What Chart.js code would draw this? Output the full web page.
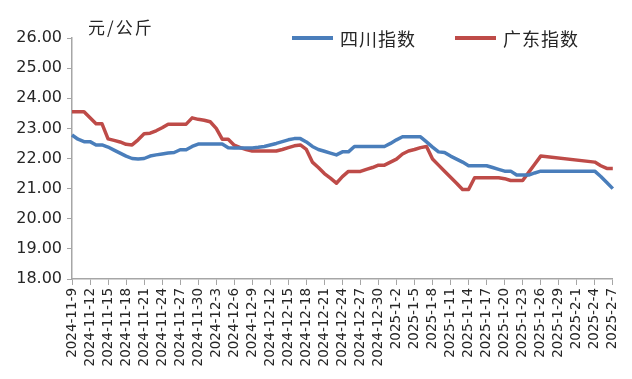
<!DOCTYPE html>
<html>
<head>
<meta charset="utf-8">
<script src="https://cdn.jsdelivr.net/npm/chart.js@4"></script>
<style>
html,body{margin:0;padding:0;background:#fff;}
#wrap{width:632px;height:379px;position:relative;}
</style>
</head>
<body>
<div id="wrap"><canvas id="c" width="632" height="379"></canvas></div>
<script>
const dates = [
"2024-11-9","2024-11-10","2024-11-11","2024-11-12","2024-11-13","2024-11-14","2024-11-15","2024-11-16","2024-11-17","2024-11-18",
"2024-11-19","2024-11-20","2024-11-21","2024-11-22","2024-11-23","2024-11-24","2024-11-25","2024-11-26","2024-11-27","2024-11-28",
"2024-11-29","2024-11-30","2024-12-1","2024-12-2","2024-12-3","2024-12-4","2024-12-5","2024-12-6","2024-12-7","2024-12-8",
"2024-12-9","2024-12-10","2024-12-11","2024-12-12","2024-12-13","2024-12-14","2024-12-15","2024-12-16","2024-12-17","2024-12-18",
"2024-12-19","2024-12-20","2024-12-21","2024-12-22","2024-12-23","2024-12-24","2024-12-25","2024-12-26","2024-12-27","2024-12-28",
"2024-12-29","2024-12-30","2024-12-31","2025-1-1","2025-1-2","2025-1-3","2025-1-4","2025-1-5","2025-1-6","2025-1-7",
"2025-1-8","2025-1-9","2025-1-10","2025-1-11","2025-1-12","2025-1-13","2025-1-14","2025-1-15","2025-1-16","2025-1-17",
"2025-1-18","2025-1-19","2025-1-20","2025-1-21","2025-1-22","2025-1-23","2025-1-24","2025-1-25","2025-1-26","2025-1-27",
"2025-1-28","2025-1-29","2025-1-30","2025-1-31","2025-2-1","2025-2-2","2025-2-3","2025-2-4","2025-2-5","2025-2-6",
"2025-2-7"
];

const sichuan = [
22.78,22.64,22.56,22.56,22.45,22.45,22.38,22.28,22.18,22.08,
22.00,21.98,22.00,22.08,22.12,22.15,22.18,22.20,22.29,22.29,
22.40,22.48,22.48,22.48,22.48,22.48,22.36,22.35,22.35,22.35,
22.35,22.37,22.40,22.45,22.50,22.56,22.62,22.66,22.66,22.55,
22.40,22.30,22.24,22.18,22.12,22.22,22.22,22.40,22.40,22.40,
22.40,22.40,22.40,22.50,22.62,22.72,22.72,22.72,22.72,22.55,
22.38,22.22,22.20,22.08,21.98,21.88,21.76,21.76,21.76,21.76,
21.70,21.64,21.58,21.58,21.45,21.45,21.45,21.52,21.58,21.58,
21.58,21.58,21.58,21.58,21.58,21.58,21.58,21.58,21.40,21.20,
21.00
];

const guangdong = [
23.55,23.55,23.55,23.35,23.15,23.15,22.65,22.60,22.55,22.47,
22.45,22.62,22.82,22.84,22.92,23.02,23.14,23.14,23.14,23.14,
23.35,23.30,23.27,23.22,23.00,22.64,22.64,22.44,22.36,22.30,
22.25,22.25,22.25,22.25,22.25,22.30,22.36,22.42,22.45,22.30,
21.88,21.70,21.50,21.35,21.18,21.40,21.57,21.57,21.57,21.64,
21.70,21.78,21.78,21.88,21.98,22.15,22.25,22.30,22.36,22.40,
21.98,21.78,21.58,21.38,21.18,20.97,20.97,21.36,21.36,21.36,
21.36,21.36,21.33,21.27,21.27,21.27,21.54,21.81,22.08,null,
null,null,null,null,null,null,null,21.88,21.76,21.67,
21.67
];

const seriesNames = ["四川指数","广东指数"];
const unitLabel = "元/公斤";
const yMin = 18, yMax = 26, yStep = 1;

const BLUE = "#4a7ebb";
const RED = "#be4b48";
const AXIS = "#a6a6a6";
const TEXT = "#262626";
const CJK = '"Noto Sans CJK SC", "Noto Sans", sans-serif';
const NUM = '"DejaVu Sans", Verdana, sans-serif';

const overlay = {
  id: "overlay",
  afterDraw(chart) {
    const ctx = chart.ctx;
    ctx.save();
    ctx.fillStyle = TEXT;
    ctx.font = "17px " + CJK;
    ctx.textBaseline = "middle";
    ctx.textAlign = "left";
    if ("letterSpacing" in ctx) ctx.letterSpacing = "2px";
    ctx.fillText(unitLabel, 88, 28);
    if ("letterSpacing" in ctx) ctx.letterSpacing = "1px";
    const items = [
      {x: 292, ds: chart.data.datasets[0]},
      {x: 455, ds: chart.data.datasets[1]}
    ];
    const ly = 38;
    ctx.font = "18px " + CJK;
    items.forEach(it => {
      ctx.strokeStyle = it.ds.borderColor;
      ctx.lineWidth = 4;
      ctx.lineCap = "butt";
      ctx.beginPath();
      ctx.moveTo(it.x, ly);
      ctx.lineTo(it.x + 41, ly);
      ctx.stroke();
      ctx.fillStyle = TEXT;
      ctx.fillText(it.ds.label, it.x + 48, ly + 1);
    });
    ctx.restore();
  }
};

new Chart(document.getElementById("c"), {
  type: "line",
  data: {
    labels: dates,
    datasets: [
      {label: seriesNames[0], data: sichuan, borderColor: BLUE, backgroundColor: BLUE,
       borderWidth: 3.5, pointRadius: 0, tension: 0, borderJoinStyle: "round", spanGaps: true},
      {label: seriesNames[1], data: guangdong, borderColor: RED, backgroundColor: RED,
       borderWidth: 3.5, pointRadius: 0, tension: 0, borderJoinStyle: "round", spanGaps: true}
    ]
  },
  options: {
    responsive: false,
    animation: false,
    devicePixelRatio: 1,
    layout: {padding: {top: 38, right: 19, bottom: 0, left: 0}},
    plugins: {legend: {display: false}, tooltip: {enabled: false}, title: {display: false}},
    scales: {
      x: {
        type: "category",
        offset: false,
        afterFit(scale) { scale.height = 100; },
        grid: {display: true, drawOnChartArea: false, tickLength: 6, color: AXIS, lineWidth: 1},
        border: {display: true, color: AXIS, width: 1.5},
        ticks: {
          autoSkip: false, maxRotation: 90, minRotation: 90, padding: 3,
          color: TEXT, font: {family: NUM, size: 13.5},
          callback(v, i) { return i % 3 === 0 ? this.getLabelForValue(v) : null; }
        }
      },
      y: {
        min: yMin, max: yMax,
        afterFit(scale) { scale.width = 72; },
        grid: {display: true, drawOnChartArea: false, tickLength: 5, color: AXIS, lineWidth: 1},
        border: {display: true, color: AXIS, width: 1.5},
        ticks: {
          stepSize: yStep, padding: 5, color: TEXT, font: {family: NUM, size: 16},
          callback(v) { return Number(v).toFixed(2); }
        }
      }
    }
  },
  plugins: [overlay]
});
</script>
</body>
</html>
